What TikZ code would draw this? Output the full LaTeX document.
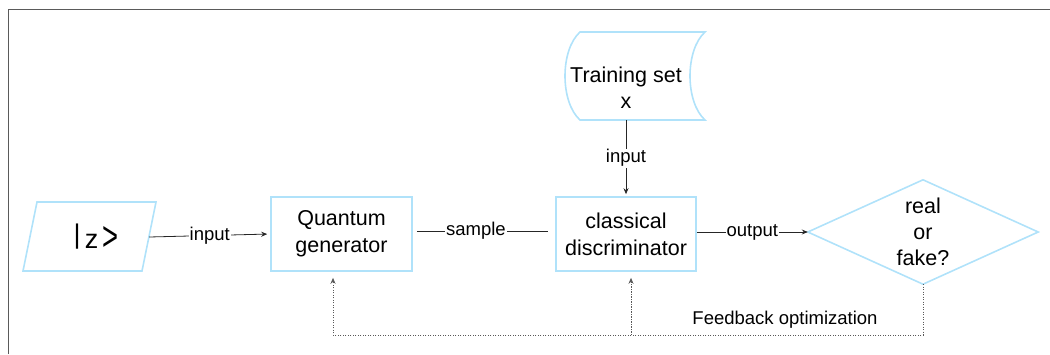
\documentclass[tikz,border=0pt]{standalone}
\usepackage{fontspec}
\setmainfont{Liberation Sans}
\usepackage{graphicx}
\usetikzlibrary{arrows.meta,calc}
\definecolor{bl}{RGB}{176,226,250}
\definecolor{fr}{RGB}{90,90,90}
\begin{document}
\begin{tikzpicture}[x=1pt,y=-1pt,
  shapeline/.style={draw=bl,line width=1.6pt},
  box/.style={shapeline,inner sep=0pt,align=center,font=\fontsize{21.5}{27}\selectfont},
  plain/.style={inner sep=0pt,align=center,font=\fontsize{21.5}{26}\selectfont},
  lbl/.style={fill=white,inner sep=1pt,font=\fontsize{18.5}{22}\selectfont},
  con/.style={draw=black!85,line width=0.8pt},
  arr/.style={con,-{Stealth[length=6pt,width=5pt]}},
  fb/.style={draw=black!65,line width=1pt,dash pattern=on 1.2pt off 1.3pt,-{Stealth[length=6pt,width=5pt]}}]
\useasboundingbox (0,0) rectangle (1050,354);
\draw[fr,line width=1pt] (8,354) -- (8,9) -- (1050,9);

% |z> input state
\node[plain,minimum width=106pt,minimum height=69pt,font=\fontsize{27}{27}\selectfont] (z) at (96,237)
  {\raisebox{5pt}{|}\hspace{4pt}z\hspace{4pt}\raisebox{-2pt}{\resizebox{16pt}{24pt}{>}}};
\draw[shapeline] (37,202) -- (156,202) -- (142,271) -- (23,271) -- cycle;

% boxes
\node[box,minimum width=141pt,minimum height=74pt] (qg) at (341.5,234) {Quantum\\generator};
\node[box,minimum width=140pt,minimum height=74pt] (cd) at (626,234) {classical\\discriminator};

% training set (stored data)
\node[plain,minimum height=64pt] (ts) at (626,88) {Training set\\x};
\draw[shapeline] (580,32) -- (705,32) .. controls (685,50) and (685,102) .. (705,120)
  -- (580,120) .. controls (560,102) and (560,50) .. (580,32) -- cycle;

% decision
\node[plain,minimum width=230pt,minimum height=104pt] (dm) at (923,232) {real\\or\\fake?};
\draw[shapeline] (dm.west) -- (dm.north) -- (dm.east) -- (dm.south) -- cycle;

% connectors
\draw[arr,shorten >=3pt] (z.east) -- node[lbl]{input} (qg.west);
\draw[con] ([xshift=4pt,yshift=3pt]qg.east) -- node[lbl,pos=0.45]{sample} ([xshift=-7pt,yshift=3pt]cd.west);
\draw[arr] (cd.east |- dm.west) -- node[lbl]{output} (dm.west);
\draw[arr,shorten >=2pt] (ts.south) -- node[lbl]{input} (cd.north);

% feedback
\coordinate (fq) at (333,335);
\coordinate (fd) at (631,335);
\draw[fb,shorten >=6pt] (dm.south) |- (fq) -- (fq |- qg.south);
\draw[fb,shorten >=6pt] (fd) -- (fd |- cd.south);
\node[lbl,fill=none,anchor=base] (fbl) at (785,324) {Feedback optimization};
\end{tikzpicture}
\end{document}
